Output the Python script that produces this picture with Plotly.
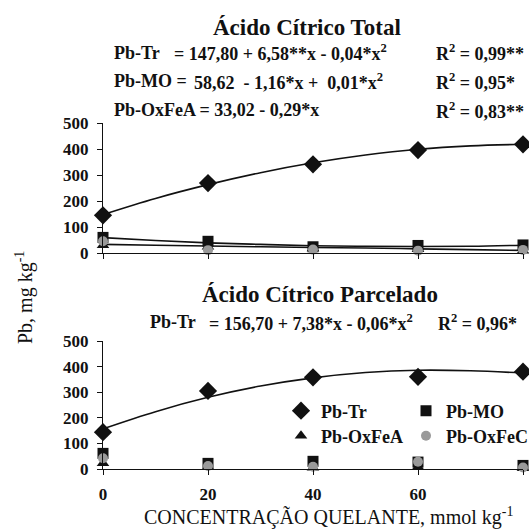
import plotly.graph_objects as go

W, H = 529, 529

# ---- data ----
conc = [0, 20, 40, 60, 80]
tr_total = [145, 269, 341, 396, 418]
mo_total = [60, 45, 24, 29, 31]
oxfea_total = [30, 24, 17, 14, 9]
oxfec_total = [45, 11, 13, 9, 12]

tr_parc = [144, 305, 358, 360, 380]
mo_parc = [61, 22, 30, 27, 14]
oxfea_parc = [22, 8, 5, 8, 4]
oxfec_parc = [42, 12, 9, 28, 6]

# trend lines
fit_x = [0, 10, 20, 30, 40, 50, 60, 70, 80]
fit_tr_total = [148, 210, 263, 309, 347, 377, 399, 412, 418]
fit_mo_total = [59, 48, 39, 33, 28, 26, 25, 26, 30]
fit_oxfea_total = [33, 30, 27, 24, 21, 19, 16, 13, 10]
fit_tr_parc = [157, 224, 280, 324, 356, 377, 386, 384, 375]

x_ticks = [0, 20, 40, 60, 80]
y_ticks = [0, 100, 200, 300, 400, 500]

FONT = "Liberation Serif"
BLACK = "#111111"
GRAY = "#9a9a9a"


def px(x):
    return x / W


def py(y):
    return 1 - y / H


fig = go.Figure()

def add_markers(xa, ya, data, name, symbol, size, color, legend, show):
    fig.add_trace(go.Scatter(
        x=conc, y=data, mode="markers", name=name,
        marker=dict(symbol=symbol, size=size, color=color, line=dict(width=0)),
        xaxis=xa, yaxis=ya, cliponaxis=False,
        showlegend=show, legend=legend))

def add_line(xa, ya, data):
    fig.add_trace(go.Scatter(
        x=fit_x, y=data, mode="lines", line=dict(color=BLACK, width=1.6, shape="spline"),
        xaxis=xa, yaxis=ya, showlegend=False, hoverinfo="skip", cliponaxis=False))

# top panel
add_line("x", "y", fit_tr_total)
add_line("x", "y", fit_mo_total)
add_line("x", "y", fit_oxfea_total)
add_markers("x", "y", oxfea_total, "Pb-OxFeA", "triangle-up", 11, BLACK, "legend3", False)
add_markers("x", "y", mo_total, "Pb-MO", "square", 11, BLACK, "legend2", False)
add_markers("x", "y", oxfec_total, "Pb-OxFeC", "circle", 10, GRAY, "legend4", False)
add_markers("x", "y", tr_total, "Pb-Tr", "diamond", 14, BLACK, "legend", False)

# bottom panel
add_line("x2", "y2", fit_tr_parc)
add_markers("x2", "y2", oxfea_parc, "Pb-OxFeA", "triangle-up", 11, BLACK, "legend3", True)
add_markers("x2", "y2", mo_parc, "Pb-MO", "square", 11, BLACK, "legend2", True)
add_markers("x2", "y2", oxfec_parc, "Pb-OxFeC", "circle", 10, GRAY, "legend4", True)
add_markers("x2", "y2", tr_parc, "Pb-Tr", "diamond", 14, BLACK, "legend", True)

xdom = [px(103), px(523)]
axis_common = dict(showgrid=False, zeroline=False, showline=True, linecolor=BLACK,
                   linewidth=1, ticks="outside", ticklen=5, tickcolor=BLACK, tickwidth=1,
                   automargin=False,
                   tickfont=dict(family=FONT, size=17, color=BLACK, weight="bold"))

def leg(x, y):
    return dict(x=px(x), y=py(y), xanchor="left", yanchor="middle",
                bgcolor="rgba(0,0,0,0)", borderwidth=0,
                font=dict(family=FONT, size=18, color=BLACK, weight="bold"),
                itemsizing="trace", orientation="v")

fig.update_layout(
    width=W, height=H, margin=dict(l=0, r=0, t=0, b=0, autoexpand=False),
    paper_bgcolor="white", plot_bgcolor="white",
    xaxis=dict(domain=xdom, range=[0, 80], tickvals=x_ticks, showticklabels=False,
               anchor="y", **axis_common),
    yaxis=dict(domain=[py(253), py(123)], range=[0, 500], tickvals=y_ticks,
               anchor="x", ticklabelstandoff=5, **axis_common),
    xaxis2=dict(domain=xdom, range=[0, 80], tickvals=x_ticks, anchor="y2",
                ticklabelstandoff=5, **axis_common),
    yaxis2=dict(domain=[py(469), py(341)], range=[0, 500], tickvals=y_ticks,
                anchor="x2", ticklabelstandoff=5, **axis_common),
    legend=leg(281, 411),
    legend2=leg(406, 411),
    legend3=leg(281, 436),
    legend4=leg(406, 436),
)

anns = []

def ann(text, x, y, size=18, bold=True, xanchor="left", angle=0):
    anns.append(dict(text=text, x=px(x), y=py(y), xref="paper", yref="paper",
                     xanchor=xanchor, yanchor="middle", showarrow=False, textangle=angle,
                     font=dict(family=FONT, size=size, color=BLACK,
                               weight="bold" if bold else "normal")))

ann("Ácido Cítrico Total", 307, 28, size=23, xanchor="center")
ann("Pb-Tr", 112, 53)
ann("= 147,80 + 6,58**x - 0,04*x<sup>2</sup>", 172, 53)
ann("R<sup>2</sup> = 0,99**", 434, 53)
ann("Pb-MO =", 112, 81)
ann("58,62  - 1,16*x +  0,01*x<sup>2</sup>".replace("  ", "\u00a0 "), 192, 81)
ann("R<sup>2</sup> = 0,95*", 434, 81)
ann("Pb-OxFeA = 33,02 - 0,29*x", 112, 110)
ann("R<sup>2</sup> = 0,83**", 434, 110)

ann("Ácido Cítrico Parcelado", 320, 294, size=23, xanchor="center")
ann("Pb-Tr", 148, 322)
ann("= 156,70 + 7,38*x - 0,06*x<sup>2</sup>", 207, 322)
ann("R<sup>2</sup> = 0,96*", 436, 322)

ann("Pb, mg kg<sup>-1</sup>", 24, 298, size=20, bold=False, xanchor="center", angle=-90)
ann("CONCENTRAÇÃO QUELANTE, mmol kg<sup>-1</sup>", 328, 516, size=20, bold=False,
    xanchor="center")

fig.update_layout(annotations=anns)
fig.write_html("out.html", post_script="document.body.style.margin='0px';",
               config={"displayModeBar": False})
